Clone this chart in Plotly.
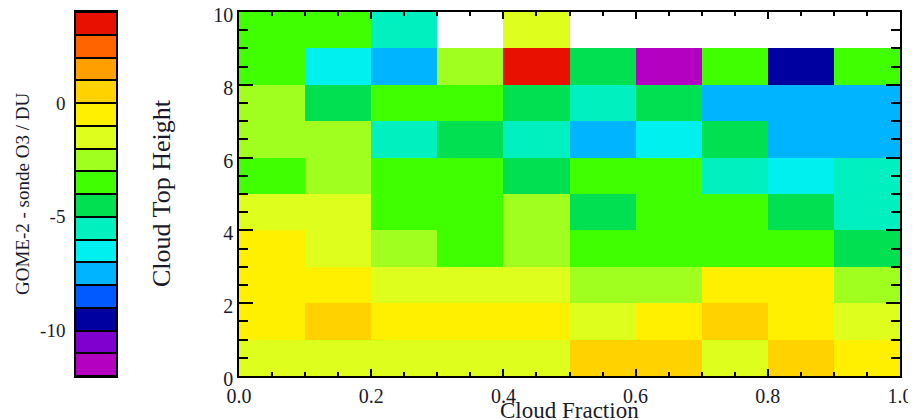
import plotly.graph_objects as go

# ---- data ----
cloud_fraction_edges = [0.0, 0.1, 0.2, 0.3, 0.4, 0.5, 0.6, 0.7, 0.8, 0.9, 1.0]
cloud_top_edges = [0, 1, 2, 3, 4, 5, 6, 7, 8, 9, 10]
x_tick_vals = [0, 0.2, 0.4, 0.6, 0.8, 1.0]
x_tick_text = ["0.0", "0.2", "0.4", "0.6", "0.8", "1.0"]
y_tick_vals = [0, 2, 4, 6, 8, 10]

# GOME-2 - sonde O3 (DU), rows from cloud top height 0-1 (bottom) to 9-10 (top)
row_0_1 = [-1.5, -1.5, -1.5, -1.5, -1.5, 0.5, 0.5, -1.5, 0.5, -0.5]
row_1_2 = [-0.5, 0.5, -0.5, -0.5, -0.5, -1.5, -0.5, 0.5, -0.5, -1.5]
row_2_3 = [-0.5, -0.5, -1.5, -1.5, -1.5, -2.5, -2.5, -0.5, -0.5, -2.5]
row_3_4 = [-0.5, -1.5, -2.5, -3.5, -2.5, -3.5, -3.5, -3.5, -3.5, -4.5]
row_4_5 = [-1.5, -1.5, -3.5, -3.5, -2.5, -4.5, -3.5, -3.5, -4.5, -5.5]
row_5_6 = [-3.5, -2.5, -3.5, -3.5, -4.5, -3.5, -3.5, -5.5, -6.5, -5.5]
row_6_7 = [-2.5, -2.5, -5.5, -4.5, -5.5, -7.5, -6.5, -4.5, -7.5, -7.5]
row_7_8 = [-2.5, -4.5, -3.5, -3.5, -4.5, -5.5, -4.5, -7.5, -7.5, -7.5]
row_8_9 = [-3.5, -6.5, -7.5, -2.5, 3.5, -4.5, -11.5, -3.5, -9.5, -3.5]
row_9_10 = [-3.5, -3.5, -5.5, None, -1.5, None, None, None, None, None]

# colour levels (bins of 1 DU from -12 to 4)
level_edges = list(range(-12, 5))
level_colors = [
    "#b400c0", "#8000d0", "#0000a0", "#005aff", "#00b4ff", "#00f0f0",
    "#00f0c0", "#00e050", "#40ff00", "#a0ff1e", "#deff1e", "#fff000",
    "#ffd200", "#ffa000", "#ff6400", "#e81000",
]
colorbar_tick_vals = [0, -5, -10]
colorbar_tick_text = ["0", "-5", "-10"]

zmin, zmax = level_edges[0], level_edges[-1]
n = len(level_colors)
colorscale = []
for i, c in enumerate(level_colors):
    colorscale.append([i / n, c])
    colorscale.append([(i + 1) / n, c])

z = [row_0_1, row_1_2, row_2_3, row_3_4, row_4_5, row_5_6, row_6_7, row_7_8, row_8_9, row_9_10]
level_mids = [[(level_edges[i] + level_edges[i + 1]) / 2] for i in range(n)]

FONT = "Liberation Serif"
TXT = "#1a1a2a"
# page offset of the figure in the viewer (body margin)
OX, OY = 8, 8
W, H = 916 - OX, 420 - OY
ML, MR, MT, MB = 0, 916 - 900, 12 - OY, 420 - 376
PW = W - ML - MR
PH = H - MT - MB


def px(xs):
    return (xs - OX - ML) / PW


def py(ys):
    return (376 - ys) / PH


fig = go.Figure()
fig.add_trace(go.Heatmap(
    x=cloud_fraction_edges, y=cloud_top_edges, z=z,
    colorscale=colorscale, zmin=zmin, zmax=zmax, showscale=False,
    hoverongaps=False, xaxis="x", yaxis="y",
))
fig.add_trace(go.Heatmap(
    x=[0, 1], y=level_edges, z=level_mids,
    colorscale=colorscale, zmin=zmin, zmax=zmax, showscale=False,
    ygap=2, xaxis="x2", yaxis="y2",
))

axis_common = dict(showgrid=False, zeroline=False, showline=True, linecolor="black",
                   linewidth=1.5, mirror="ticks", ticks="inside", tickcolor="black",
                   tickwidth=1.5, ticklabeloverflow="allow",
                   tickfont=dict(family=FONT, size=20, color=TXT))

fig.update_layout(
    width=W, height=H,
    margin=dict(l=ML, r=MR, t=MT, b=MB, autoexpand=False),
    paper_bgcolor="white", plot_bgcolor="white",
    xaxis=dict(domain=[px(239), 1], range=[0, 1], tickvals=x_tick_vals,
               ticktext=x_tick_text, ticklen=7, ticklabelstandoff=1,
               minor=dict(dtick=0.05, ticklen=4, ticks="inside", tickcolor="black", tickwidth=1.5),
               **axis_common),
    yaxis=dict(domain=[0, 1], range=[0, 10], tickvals=y_tick_vals, ticklen=14,
               ticklabelstandoff=0, ticklabelshift=3,
               minor=dict(dtick=0.5, ticklen=9, ticks="inside", tickcolor="black", tickwidth=1.5),
               **axis_common),
    xaxis2=dict(domain=[px(76), px(116)], range=[0, 1], showticklabels=False, ticks="",
                showgrid=False, zeroline=False, showline=True, linecolor="black",
                linewidth=1.5, mirror=True, anchor="y2"),
    yaxis2=dict(domain=[0, 1], range=[zmin, zmax], tickvals=colorbar_tick_vals,
                ticktext=colorbar_tick_text, ticks="",
                showgrid=False, zeroline=False, showline=True, linecolor="black",
                linewidth=1.5, mirror=True, anchor="x2", ticklabelstandoff=5,
                tickfont=dict(family=FONT, size=19, color=TXT)),
    shapes=[dict(type="rect", xref="x2", yref="y2", x0=0, x1=1, y0=zmin, y1=zmax,
                 fillcolor="black", line=dict(width=0), layer="below")],
    annotations=[
        dict(text="Cloud Top Height", xref="paper", yref="paper", x=px(161),
             y=py(193), textangle=-90, showarrow=False,
             font=dict(family=FONT, size=26, color=TXT), xanchor="center", yanchor="middle"),
        dict(text="GOME-2 - sonde O3 / DU", xref="paper", yref="paper", x=px(22),
             y=py(194), textangle=-90, showarrow=False,
             font=dict(family=FONT, size=19, color=TXT), xanchor="center", yanchor="middle"),
        dict(text="Cloud Fraction", xref="paper", yref="paper", x=px(569),
             y=py(410), showarrow=False,
             font=dict(family=FONT, size=23, color=TXT), xanchor="center", yanchor="middle"),
    ],
)

fig.write_html("out.html")
